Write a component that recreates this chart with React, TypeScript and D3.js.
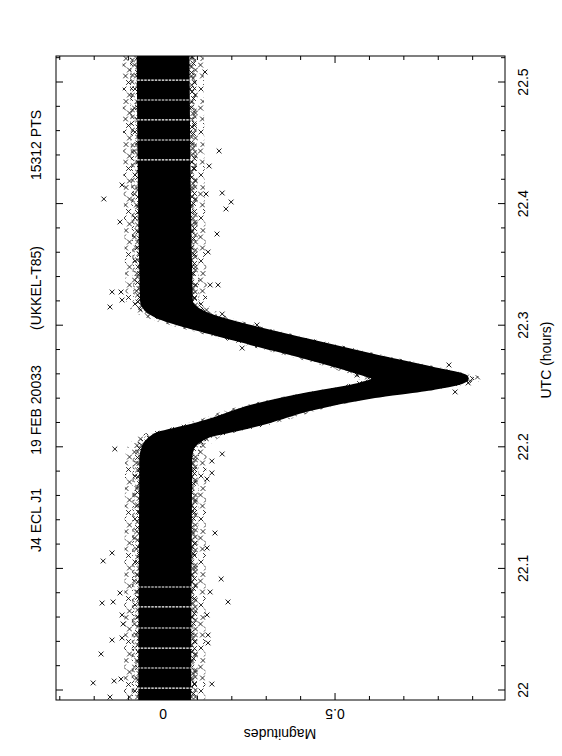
import React from "react";
import * as d3 from "d3";

// light curve: UTC hours, mean magnitude, half spread of the cloud
const bandTimes = [21.99, 22.19, 22.2, 22.205, 22.21, 22.2155, 22.222, 22.2319, 22.2426, 22.2492, 22.2562, 22.2632, 22.2738, 22.2862, 22.3002, 22.306, 22.312, 22.32, 22.53];
const bandMags = [0.005, 0.008, 0.015, 0.03, 0.06, 0.145, 0.23, 0.34, 0.52, 0.67, 0.75, 0.67, 0.52, 0.34, 0.145, 0.075, 0.03, 0.01, 0.0];
const bandSpread = [0.068, 0.068, 0.068, 0.07, 0.072, 0.075, 0.08, 0.085, 0.095, 0.115, 0.13, 0.115, 0.095, 0.085, 0.075, 0.072, 0.07, 0.068, 0.068];

// short observing gaps (white lines through the cloud)
const gapTimes = [22.0016, 22.0181, 22.0345, 22.051, 22.0683, 22.0847, 22.4359, 22.4523, 22.4688, 22.4852, 22.5016];

// isolated points outside the main cloud
const outlierTimes = [22.1982, 22.1061, 22.1127, 22.1941, 22.1883, 22.1785, 22.1735, 22.1291, 22.1168, 22.0913, 22.0724, 22.0715, 22.0724, 22.0798, 22.0806, 22.0617, 22.0543, 22.0411, 22.0428, 22.0296, 22.0058, 22.0074, 22.009, 22.0049, 22.0617, 22.0452, 22.0387, 21.9942,
  22.5082, 22.4433, 22.4309, 22.4038, 22.4087, 22.4013, 22.3956, 22.4079, 22.375, 22.3602, 22.3331, 22.3331, 22.3273, 22.315, 22.3273, 22.3207, 22.4153, 22.3849,
  22.3092, 22.2812, 22.3002, 22.259, 22.2632, 22.2574, 22.2451, 22.2525, 22.2673];
const outlierMags = [-0.14, -0.174, -0.148, 0.172, 0.142, 0.142, 0.128, 0.151, 0.128, 0.169, 0.189, -0.177, -0.145, -0.125, 0.137, -0.119, -0.116, -0.148, -0.119, -0.18, -0.203, -0.142, -0.122, 0.142, 0.128, 0.131, 0.131, -0.154,
  0.122, 0.163, 0.134, -0.172, 0.172, 0.198, 0.183, 0.125, 0.157, 0.131, 0.137, 0.16, -0.148, -0.154, -0.122, -0.119, -0.119, -0.125,
  0.172, 0.23, 0.273, 0.564, 0.573, 0.602, 0.849, 0.887, 0.831];

const timeMajor = [22, 22.1, 22.2, 22.3, 22.4, 22.5];
const timeLabels = ["22", "22.1", "22.2", "22.3", "22.4", "22.5"];
const magMajor = [0, 0.5];
const magLabels = ["0", "0.5"];
const titleParts = ["J4 ECL J1", "19 FEB 20033", "(UKKEL-T85)", "15312 PTS"];

const W = 562;
const H = 756;
const L = 56, R = 505, T = 56, B = 700;
const font = "'Liberation Sans', Arial, Helvetica, sans-serif";

const cross = (cx: number, cy: number, s = 2.4) =>
  `M${cx - s},${cy - s}L${cx + s},${cy + s}M${cx - s},${cy + s}L${cx + s},${cy - s}`;

// texture tiles for the ragged edge of the cloud
const densePts: [number, number][] = [[2.5, 2.5], [6.5, 5], [4, 8.5], [6.3, 12], [2.6, 15], [5.5, 18.5], [3, 22], [6.5, 25], [4.5, 28.5], [2.5, 32]];
const sparsePts: [number, number][] = [[3, 3], [8.5, 9], [5, 15.5], [2.5, 22], [8.5, 27], [4.5, 33], [7.5, 39.5]];

type P = { t: number; m: number; w: number };

export default function App() {
  const x = d3.scaleLinear().domain([-0.311, 0.994]).range([L, R]);
  const y = d3.scaleLinear().domain([22, 22.5]).range([690, 82]);

  const band: P[] = bandTimes.map((t, i) => ({ t, m: bandMags[i], w: bandSpread[i] }));
  const areaOf = (extra: number) =>
    d3.area<P>()
      .y((d) => y(d.t))
      .x0((d) => x(d.m - d.w - extra))
      .x1((d) => x(d.m + d.w + extra))
      .curve(d3.curveMonotoneY)(band) || "";

  const timeMinor = y.copy().domain([21.99, 22.52]).ticks(25);
  const magMinor = x.ticks(13);

  const outliers = outlierTimes.map((t, i) => cross(x(outlierMags[i]), y(t))).join("");

  const titleY = [520, 410, 288, 145];
  const titleX = 41;

  return (
    <svg width={W} height={H} style={{ position: "absolute", left: 0, top: 0, background: "#fff" }}>
      <defs>
        <clipPath id="frame">
          <rect x={L} y={T} width={R - L} height={B - T} />
        </clipPath>
        <pattern id="dense" patternUnits="userSpaceOnUse" width={9} height={35}>
          <path d={densePts.map(([a, b]) => cross(a, b)).join("")} stroke="#000" strokeWidth={0.8} fill="none" />
        </pattern>
        <pattern id="sparse" patternUnits="userSpaceOnUse" width={11} height={43}>
          <path d={sparsePts.map(([a, b]) => cross(a, b)).join("")} stroke="#000" strokeWidth={0.8} fill="none" />
        </pattern>
      </defs>

      <g clipPath="url(#frame)">
        <path d={areaOf(0.05)} fill="url(#sparse)" />
        <path d={areaOf(0.028)} fill="url(#dense)" />
        <path d={areaOf(0)} fill="#000" stroke="#000" strokeWidth={6} strokeLinejoin="round" />
        {gapTimes.map((t, i) => (
          <line key={i} x1={x(-0.085)} x2={x(0.09)} y1={y(t)} y2={y(t)}
            stroke="#fff" strokeWidth={1.2} strokeDasharray="2.5 1" />
        ))}
        <path d={outliers} stroke="#000" strokeWidth={0.9} fill="none" />
      </g>

      <rect x={L} y={T} width={R - L} height={B - T} fill="none" stroke="#000" strokeWidth={1} />

      {timeMinor.map((t, i) => {
        const major = timeMajor.some((v) => Math.abs(v - t) < 1e-6);
        const len = major ? 7 : 4;
        return (
          <g key={i} stroke="#000" strokeWidth={1}>
            <line x1={L} x2={L + len} y1={y(t)} y2={y(t)} />
            <line x1={R} x2={R - len} y1={y(t)} y2={y(t)} />
          </g>
        );
      })}
      {magMinor.map((m, i) => {
        const major = magMajor.some((v) => Math.abs(v - m) < 1e-6);
        const len = major ? 7 : 4;
        return (
          <g key={i} stroke="#000" strokeWidth={1}>
            <line x1={x(m)} x2={x(m)} y1={T} y2={T + len} />
            <line x1={x(m)} x2={x(m)} y1={B} y2={B - len} />
          </g>
        );
      })}

      <g fontFamily={font} fontSize={14} fill="#000" textAnchor="middle">
        {timeMajor.map((t, i) => (
          <text key={i} x={528} y={y(t)} transform={`rotate(-90, 528, ${y(t)})`}>{timeLabels[i]}</text>
        ))}
        <text x={551} y={360} transform="rotate(-90, 551, 360)">UTC (hours)</text>

        {magMajor.map((m, i) => (
          <text key={i} x={x(m)} y={709} transform={`rotate(180, ${x(m)}, 709)`}>{magLabels[i]}</text>
        ))}
        <text x={280} y={729} transform="rotate(180, 280, 729)">Magnitudes</text>

        {titleParts.map((s, i) => (
          <text key={i} x={titleX} y={titleY[i]} transform={`rotate(-90, ${titleX}, ${titleY[i]})`}>{s}</text>
        ))}
      </g>
    </svg>
  );
}
